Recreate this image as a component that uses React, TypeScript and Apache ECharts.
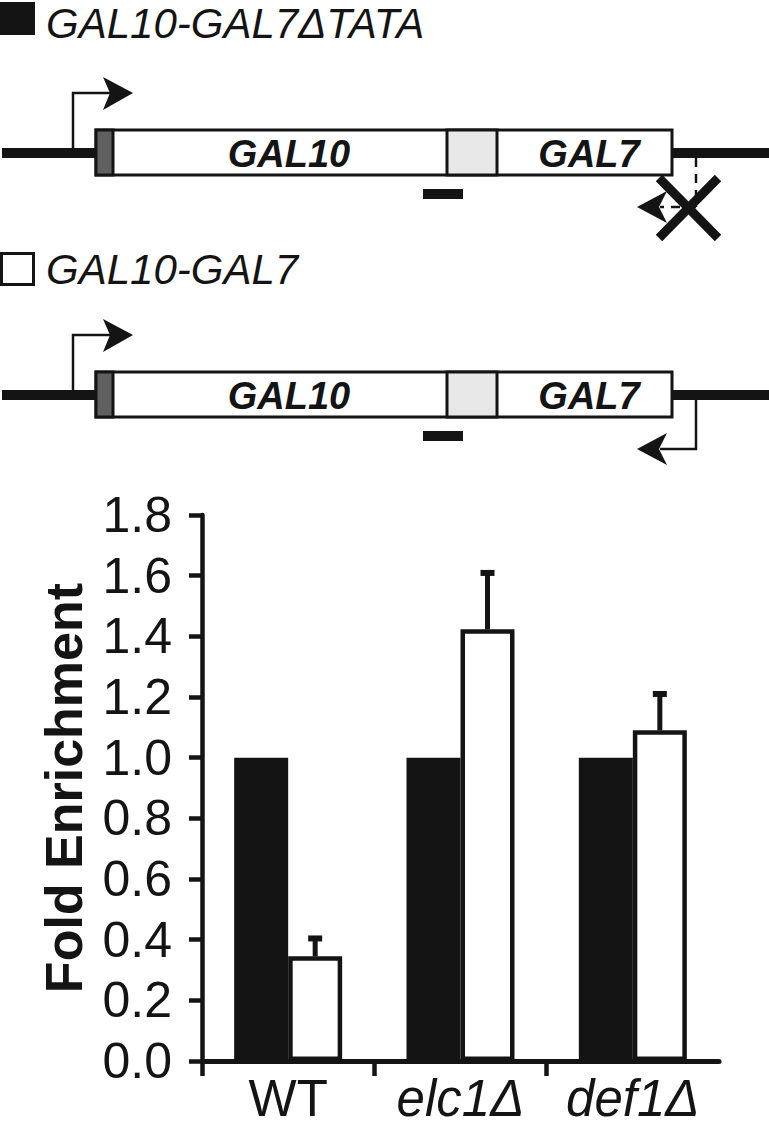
import React, { useEffect, useRef } from 'react';
import * as echarts from 'echarts';

// ---- data ----
const categories = ['WT', 'elc1Δ', 'def1Δ'];
const italicCategories = [false, true, true];
const tataDeletedValues = [1.0, 1.0, 1.0]; // GAL10-GAL7ΔTATA (black)
const wildTypeValues = [0.345, 1.423, 1.09]; // GAL10-GAL7 (white)
const wildTypeErrors = [0.059, 0.186, 0.12]; // upper error
const yMin = 0;
const yMax = 1.8;
const yInterval = 0.2;
const tickPositions = [0, 1, 2];
const legendNames = ['GAL10-GAL7ΔTATA', 'GAL10-GAL7'];

const INK = '#141414';
const FONT = '"Liberation Sans", Arial, Helvetica, sans-serif';
const BAR_W = 54;

function diagram(dy: number, crossed: boolean) {
  const els: any[] = [];
  const lineY = 153 + dy;
  // DNA line
  els.push({ type: 'line', shape: { x1: 2, y1: lineY, x2: 100, y2: lineY }, style: { stroke: INK, lineWidth: 10 } });
  els.push({ type: 'line', shape: { x1: 668, y1: lineY, x2: 769, y2: lineY }, style: { stroke: INK, lineWidth: 10 } });
  // TSS arrow (left)
  els.push({ type: 'polyline', shape: { points: [[73, lineY], [73, 93 + dy], [112, 93 + dy]] }, style: { stroke: INK, lineWidth: 2.5, fill: 'none' } });
  els.push({ type: 'polygon', shape: { points: [[133, 93 + dy], [103, 77 + dy], [110, 93 + dy], [103, 110 + dy]] }, style: { fill: INK } });
  // gene box
  els.push({ type: 'rect', shape: { x: 96, y: 130 + dy, width: 576, height: 45 }, style: { fill: '#fff', stroke: INK, lineWidth: 3 } });
  els.push({ type: 'rect', shape: { x: 96, y: 130 + dy, width: 17, height: 45 }, style: { fill: '#606060', stroke: INK, lineWidth: 3 } });
  els.push({ type: 'rect', shape: { x: 447, y: 130 + dy, width: 50, height: 45 }, style: { fill: '#e8e8e8', stroke: INK, lineWidth: 3 } });
  els.push({ type: 'text', x: 289, y: lineY + 1, style: { text: 'GAL10', fontSize: 38, fontWeight: 'bold', fontStyle: 'italic', fontFamily: FONT, fill: INK, align: 'center', verticalAlign: 'middle' } });
  els.push({ type: 'text', x: 589, y: lineY + 1, style: { text: 'GAL7', fontSize: 38, fontWeight: 'bold', fontStyle: 'italic', fontFamily: FONT, fill: INK, align: 'center', verticalAlign: 'middle' } });
  // probe
  els.push({ type: 'rect', shape: { x: 423, y: 189 + dy, width: 40, height: 10 }, style: { fill: INK } });
  // GAL7 TSS arrow (right, pointing left)
  const ay = 207 + dy;
  if (crossed) {
    els.push({ type: 'line', shape: { x1: 696, y1: lineY + 5, x2: 696, y2: ay }, style: { stroke: INK, lineWidth: 2.5, lineDash: [9, 7] } });
    els.push({ type: 'line', shape: { x1: 696, y1: ay, x2: 660, y2: ay }, style: { stroke: INK, lineWidth: 2.5, lineDash: [9, 7] } });
  } else {
    els.push({ type: 'polyline', shape: { points: [[696, lineY], [696, ay], [660, ay]] }, style: { stroke: INK, lineWidth: 2.5, fill: 'none' } });
  }
  els.push({ type: 'polygon', shape: { points: [[637, ay], [667, ay - 16], [659, ay], [667, ay + 16]] }, style: { fill: INK } });
  if (crossed) {
    els.push({ type: 'line', shape: { x1: 659, y1: 178 + dy, x2: 718, y2: 238 + dy }, style: { stroke: INK, lineWidth: 9 } });
    els.push({ type: 'line', shape: { x1: 718, y1: 178 + dy, x2: 659, y2: 238 + dy }, style: { stroke: INK, lineWidth: 9 } });
  }
  return els;
}

function legendItems() {
  const els: any[] = [];
  els.push({ type: 'rect', shape: { x: 0, y: 2, width: 35, height: 33 }, style: { fill: INK } });
  els.push({ type: 'text', x: 46, y: 23, style: { text: legendNames[0], fontSize: 42, fontStyle: 'italic', fontFamily: FONT, fill: INK, align: 'left', verticalAlign: 'middle' } });
  els.push({ type: 'rect', shape: { x: 1.5, y: 253.5, width: 32, height: 31 }, style: { fill: '#fff', stroke: INK, lineWidth: 3 } });
  els.push({ type: 'text', x: 46, y: 269, style: { text: legendNames[1], fontSize: 42, fontStyle: 'italic', fontFamily: FONT, fill: INK, align: 'left', verticalAlign: 'middle' } });
  return els;
}

export default function App() {
  const ref = useRef<HTMLDivElement>(null);
  useEffect(() => {
    if (!ref.current) return;
    const chart = echarts.init(ref.current, null, { renderer: 'svg' });
    const errorData = categories.map((_, i) => [i, wildTypeValues[i], wildTypeErrors[i]]);
    chart.setOption({
      animation: false,
      backgroundColor: '#fff',
      grid: { left: 202, right: 50, top: 515, bottom: 71, containLabel: false, outerBoundsMode: 'none' },
      graphic: [...legendItems(), ...diagram(0, true), ...diagram(242, false)],
      xAxis: [
        {
          type: 'category',
          data: categories,
          position: 'bottom',
          axisLine: { show: true, onZero: false, lineStyle: { color: INK, width: 5 } },
          axisTick: { show: false },
          axisLabel: {
            interval: 0,
            hideOverlap: false,
            margin: 12,
            fontSize: 51,
            fontFamily: FONT,
            color: INK,
            formatter: (v: string) => {
              const i = categories.indexOf(v);
              return italicCategories[i] ? `{i|${v}}` : `{n|${v}}`;
            },
            rich: {
              i: { fontSize: 51, fontStyle: 'italic', fontFamily: FONT, color: INK },
              n: { fontSize: 51, fontFamily: FONT, color: INK },
            },
          },
          splitLine: { show: false },
        },
        {
          type: 'value',
          min: 0,
          max: categories.length,
          position: 'bottom',
          axisLine: { show: false, onZero: false },
          axisTick: { show: true, length: 15, lineStyle: { color: INK, width: 4.5 }, customValues: tickPositions },
          axisLabel: { show: false },
          splitLine: { show: false },
        },
      ],
      yAxis: {
        type: 'value',
        min: yMin,
        max: yMax,
        interval: yInterval,
        name: 'Fold Enrichment',
        nameLocation: 'middle',
        nameRotate: 90,
        nameGap: 112,
        nameTextStyle: { fontSize: 52, fontWeight: 'bold', fontFamily: FONT, color: INK },
        axisLine: { show: true, lineStyle: { color: INK, width: 4.5 } },
        axisTick: { show: true, length: 13, lineStyle: { color: INK, width: 4.5 } },
        axisLabel: { margin: 30, fontSize: 50, fontFamily: FONT, color: INK, formatter: (v: number) => v.toFixed(1) },
        splitLine: { show: false },
      },
      series: [
        {
          name: legendNames[0],
          type: 'bar',
          xAxisIndex: 0,
          data: tataDeletedValues,
          barWidth: BAR_W,
          barGap: '0%',
          itemStyle: { color: INK },
          z: 2,
        },
        {
          name: legendNames[1],
          type: 'bar',
          xAxisIndex: 0,
          data: wildTypeValues,
          barWidth: BAR_W,
          barGap: '0%',
          itemStyle: { color: '#ffffff', borderColor: INK, borderWidth: 4.5 },
          z: 3,
        },
        {
          name: 'error',
          type: 'custom',
          xAxisIndex: 0,
          data: errorData,
          encode: { x: 0, y: 1 },
          z: 4,
          renderItem: (params: any, api: any) => {
            const i = api.value(0);
            const v = api.value(1);
            const e = api.value(2);
            const base = api.coord([i, v]);
            const top = api.coord([i, v + e]);
            const x = base[0] + BAR_W / 2;
            return {
              type: 'group',
              children: [
                { type: 'line', shape: { x1: x, y1: base[1], x2: x, y2: top[1] }, style: { stroke: INK, lineWidth: 5 } },
                { type: 'line', shape: { x1: x - 7, y1: top[1], x2: x + 7, y2: top[1] }, style: { stroke: INK, lineWidth: 6 } },
              ],
            };
          },
        },
      ],
    });
    return () => chart.dispose();
  }, []);
  return <div ref={ref} style={{ position: 'absolute', left: 0, top: 0, width: 769, height: 1132 }} />;
}
